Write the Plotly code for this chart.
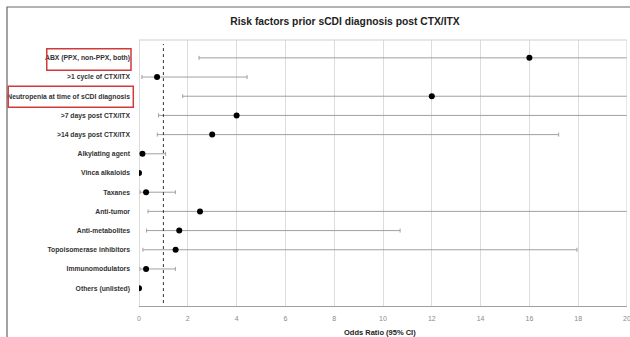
import plotly.graph_objects as go

categories = ["ABX (PPX, non-PPX, both)", ">1 cycle of CTX/ITX", "Neutropenia at time of sCDI diagnosis",
              ">7 days post CTX/ITX", ">14 days post CTX/ITX", "Alkylating agent", "Vinca alkaloids",
              "Taxanes", "Anti-tumor", "Anti-metabolites", "Topoisomerase inhibitors",
              "Immunomodulators", "Others (unlisted)"]
odds_ratio = [16.0, 0.74, 12.0, 4.0, 3.0, 0.14, 0.0, 0.29, 2.5, 1.65, 1.5, 0.29, 0.0]
ci_low = [2.46, 0.12, 1.79, 0.8, 0.75, 0.14, 0.0, 0.04, 0.37, 0.31, 0.16, 0.04, 0.0]
ci_high = [22.0, 4.43, 22.0, 22.0, 17.2, 1.09, 0.0, 1.49, 22.0, 10.7, 17.95, 1.49, 0.0]
x_ticks = list(range(0, 21, 2))

pos = list(range(len(categories)))
plus = [h - v for h, v in zip(ci_high, odds_ratio)]
minus = [v - l for v, l in zip(odds_ratio, ci_low)]

fig = go.Figure()
fig.add_trace(go.Scatter(
    x=odds_ratio, y=pos, mode="markers",
    marker=dict(color="black", size=6),
    error_x=dict(type="data", symmetric=False, array=plus, arrayminus=minus,
                 color="#a0a0a0", thickness=1, width=2),
    showlegend=False, cliponaxis=True, hoverinfo="skip",
))

fig.update_layout(
    width=630, height=337,
    margin=dict(l=139, r=3, t=40, b=31),
    paper_bgcolor="white", plot_bgcolor="white",
    font=dict(family="Liberation Sans, Arial", color="#222"),
    title=dict(text="<b>Risk factors prior sCDI diagnosis post CTX/ITX</b>",
               x=345/630, xanchor="center", y=1-21/337, yanchor="middle",
               font=dict(size=10.3, color="#222")),
    xaxis=dict(range=[0, 20], tickvals=x_ticks, showgrid=True, gridcolor="#dcdcdc", gridwidth=1,
               zeroline=True, zerolinecolor="#dcdcdc", zerolinewidth=1,
               showline=True, linecolor="#a0a0a0", linewidth=1, automargin=False,
               tickfont=dict(size=7, color="#8a8a8a"), ticks="", ticklabelstandoff=6,
               ticklabeloverflow="allow"),
    yaxis=dict(range=[12.93, -0.93], tickvals=pos, ticktext=["<b>%s</b>" % c for c in categories],
               showgrid=False, zeroline=False, showline=False, ticks="", automargin=False,
               tickfont=dict(size=6.8, color="#333"), ticklabelstandoff=8),
)

fig.add_annotation(text="<b>Odds Ratio (95% CI)</b>", xref="paper", yref="paper",
                   x=(380-139)/488, y=(306-332)/266, xanchor="center", yanchor="middle",
                   showarrow=False, font=dict(size=7.5, color="#222"))

# Top border of plot area and right gridline at 20
fig.add_shape(type="line", xref="paper", yref="paper", x0=0, x1=1, y0=1, y1=1,
              line=dict(color="#cfcfcf", width=1))
fig.add_shape(type="line", xref="x", yref="paper", x0=20, x1=20, y0=0, y1=1,
              line=dict(color="#cfcfcf", width=1))
# Reference line at OR = 1
fig.add_shape(type="line", xref="x", yref="paper", x0=1, x1=1, y0=0.011, y1=0.985,
              line=dict(color="#333", width=1, dash="dot"))
# Outer frame
fig.add_shape(type="rect", xref="paper", yref="paper", x0=-0.2705, x1=1.06, y0=-0.14, y1=1.124,
              line=dict(color="#666", width=1.2), layer="below")
# Red highlight boxes
fig.add_shape(type="rect", xref="paper", yref="paper", x0=-0.189, x1=-0.0164, y0=0.886, y1=0.967,
              line=dict(color="#d23a3a", width=1.5))
fig.add_shape(type="rect", xref="paper", yref="paper", x0=-0.268, x1=-0.0117, y0=0.747, y1=0.826,
              line=dict(color="#d23a3a", width=1.5))

fig.write_html("out.html", config={"displayModeBar": False},
               post_script="document.body.style.margin='0px';")
